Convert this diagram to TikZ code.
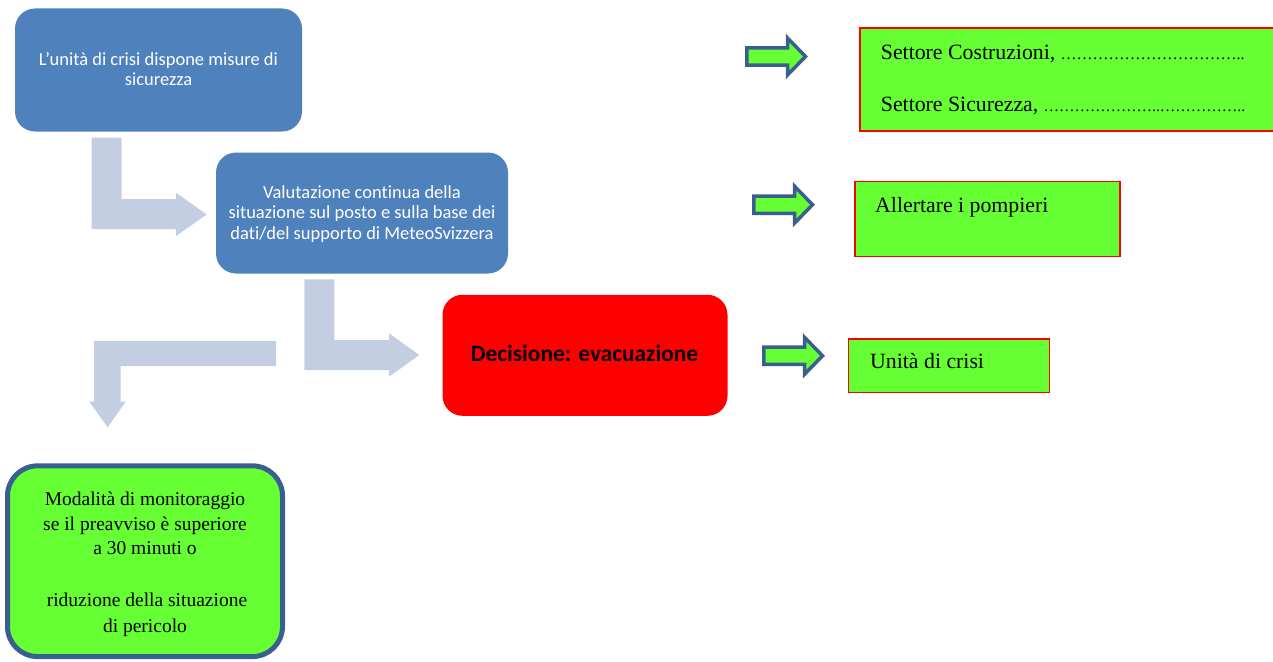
\documentclass[tikz,border=0pt]{standalone}
\usepackage{fontspec}
\setmainfont{Liberation Serif}
\newfontfamily\calfont[Ligatures=NoCommon]{Carlito}
\definecolor{boxblue}{RGB}{79,129,189}
\definecolor{lightarrow}{RGB}{195,206,227}
\definecolor{brightgreen}{RGB}{102,255,51}
\definecolor{darkoutline}{RGB}{59,94,145}
\tikzset{
  bluebox/.style={fill=boxblue, draw=none, rounded corners=20pt, inner sep=0pt},
  redbox/.style={fill=red, draw=none, rounded corners=20pt, inner sep=0pt},
  elbow/.style={fill=lightarrow, draw=none},
  smallarrow/.style={fill=brightgreen, draw=darkoutline, line width=3.5pt},
  greenrect/.style={fill=brightgreen, draw=red, line width=1.5pt, inner sep=0pt},
  monbox/.style={fill=brightgreen, draw=darkoutline, line width=5pt, rounded corners=30pt, inner sep=0pt},
  bluetxt/.style={anchor=base, text=white, font=\calfont\fontsize{18.5}{20}\selectfont, inner sep=0pt},
  redtxt/.style={anchor=base, font=\calfont\bfseries\fontsize{23.4}{24}\selectfont, inner sep=0pt},
  sertxt/.style={anchor=base, font=\fontsize{19.5}{24}\selectfont, inner sep=0pt},
  righttxt/.style={anchor=base west, font=\fontsize{21.8}{24}\selectfont, inner sep=0pt}
}
\newcommand\blockarrowat[2]{%
  \draw[smallarrow, shift={(#1,#2)}] (1.8,-8.6) -- (42.5,-8.6) -- (42.5,-18.5) -- (60.5,0)
     -- (42.5,18.5) -- (42.5,8.6) -- (1.8,8.6) -- cycle;}
\begin{document}
\begin{tikzpicture}[x=1pt,y=-1pt]
\useasboundingbox (0,0) rectangle (1273,661);

% blue boxes
\node[bluebox, minimum width=287pt, minimum height=123pt] (b1) at (158.5,70) {};
\node[bluetxt] (b1a) at (158.5,65) {L’unità di crisi dispone misure di};
\node[bluetxt] (b1b) at (158.5,85) {sicurezza};

\node[bluebox, minimum width=292pt, minimum height=121pt] (b2) at (362,213) {};
\node[bluetxt] (b2a) at (362,198.3) {Valutazione continua della};
\node[bluetxt] (b2b) at (362,218.5) {situazione sul posto e sulla base dei};
\node[bluetxt] (b2c) at (362,239) {dati/del supporto di MeteoSvizzera};

% red decision box
\node[redbox, minimum width=285pt, minimum height=121pt] (dec) at (585,355.3) {};
\node[redtxt] (dect) at (584.5,361.7) {Decisione: evacuazione};

% elbow arrows
\fill[elbow] (91.7,137.7) -- (121.7,137.7) -- (121.7,199) -- (176,199) -- (176,192.7)
  -- (206.7,214.5) -- (176,236) -- (176,229) -- (91.7,229) -- cycle;
\fill[elbow] (304.3,279.3) -- (334.3,279.3) -- (334.3,340) -- (389,340) -- (389,333.3)
  -- (419.3,355) -- (389,376.7) -- (389,370) -- (304.3,370) -- cycle;
\fill[elbow] (276,341) -- (276,366) -- (120.7,366) -- (120.7,401.7) -- (125.7,401.7)
  -- (107.7,427.3) -- (89.3,401.7) -- (94,401.7) -- (94,341) -- cycle;

% monitoring box
\node[monbox, minimum width=275pt, minimum height=190.7pt] (mon) at (145,561.2) {};
\node[sertxt] (m1) at (145,505) {Modalità di monitoraggio};
\node[sertxt] (m2) at (145,530) {se il preavviso è superiore};
\node[sertxt] (m3) at (145,554.3) {a 30 minuti o};
\node[sertxt] (m4) at (147,606.7) {riduzione della situazione};
\node[sertxt] (m5) at (145,632.7) {di pericolo};

% small arrows
\blockarrowat{745}{56.5}
\blockarrowat{752}{204.7}
\blockarrowat{762}{355.8}

% green rectangles
\node[greenrect, minimum width=416pt, minimum height=103pt] (g1) at (1068,79.7) {};
\node[righttxt] (g1a) at (880.7,59.3) {Settore Costruzioni, {\fontsize{16}{16}\selectfont ……………………………..}};
\node[righttxt] (g1b) at (880.7,111) {Settore Sicurezza, {\fontsize{15.5}{16}\selectfont …………………..……………..}};

\node[greenrect, minimum width=265pt, minimum height=75pt] (g2) at (987.4,219.2) {};
\node[righttxt] (g2a) at (875,212.7) {Allertare i pompieri};

\node[greenrect, minimum width=201pt, minimum height=53.7pt] (g3) at (948.8,365.8) {};
\node[righttxt] (g3a) at (870,368.3) {Unità di crisi};
\end{tikzpicture}
\end{document}
